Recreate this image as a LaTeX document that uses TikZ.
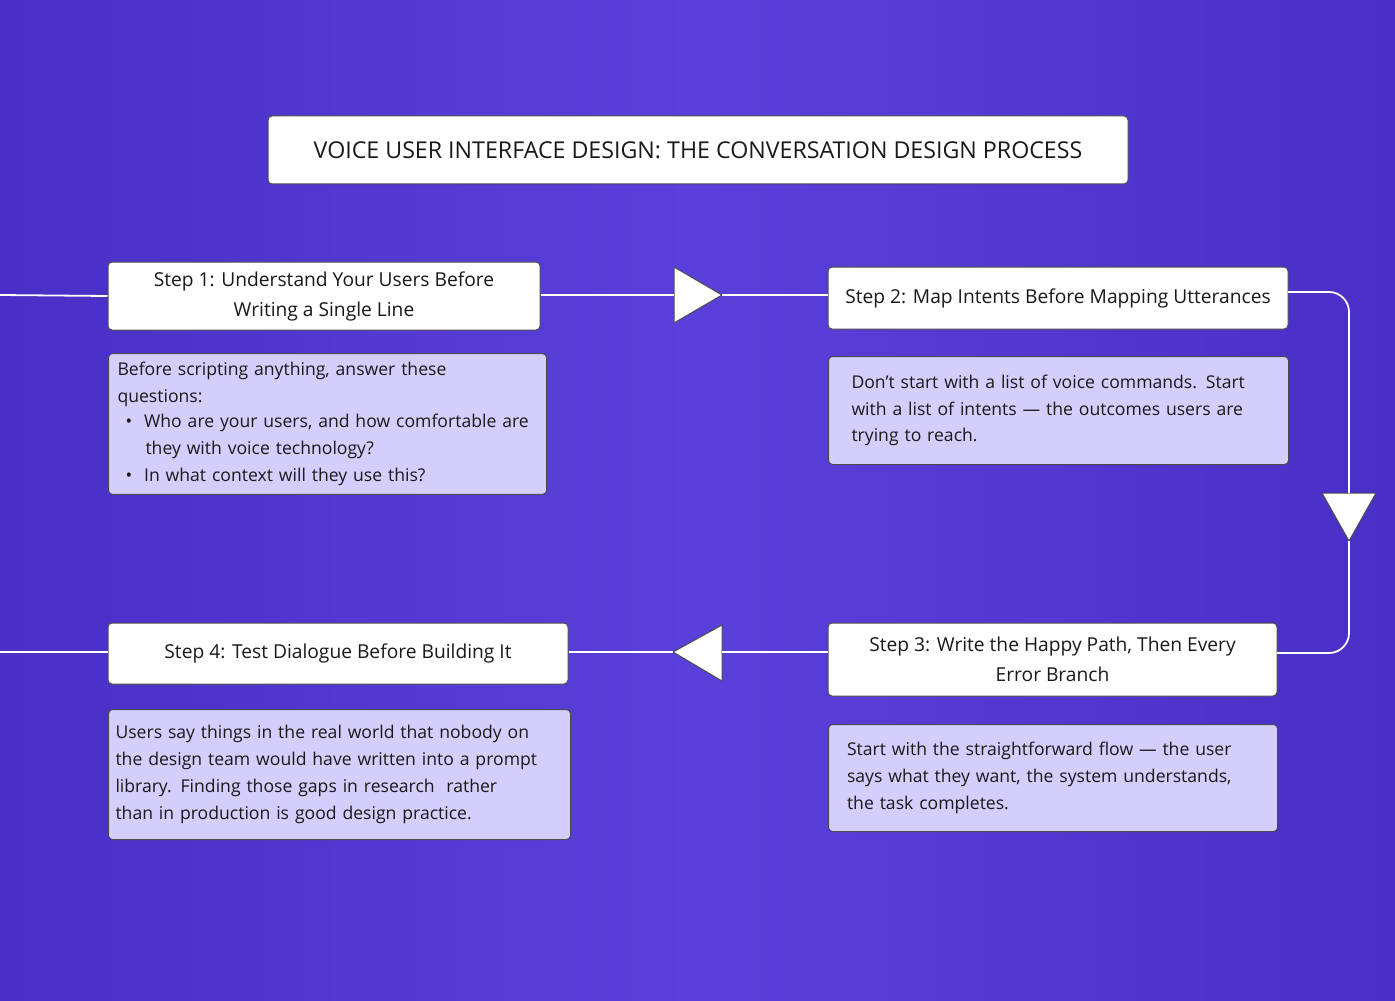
\documentclass[tikz,border=0pt]{standalone}
\usepackage{fontspec}
\setmainfont{Open Sans}
\begin{document}
\begin{tikzpicture}[x=0.5pt,y=-0.5pt,
  hdr/.style={draw=black!70,line width=0.5pt,fill=white,rounded corners=2pt,align=center,text=black!90,font=\fontsize{9.6}{15}\selectfont,inner sep=0pt},
  desc/.style={draw=black!70,line width=0.5pt,fill=descfill,rounded corners=2pt,align=left,text=black!90,font=\fontsize{8.8}{13.4}\selectfont,anchor=north west},
  conn/.style={draw=white,line width=0.9pt},
  tri/.style={fill=white,draw=black!70,line width=0.5pt,line join=round}]
\definecolor{descfill}{HTML}{D3CEFB}
\definecolor{bgA}{HTML}{4A2FC6}
\definecolor{bgB}{HTML}{5A3FDA}
\shade[left color=bgA,right color=bgA,middle color=bgB] (0,0) rectangle (1395,1000);
\useasboundingbox (0,0) rectangle (1395,1000);

\node[hdr,minimum width=430pt,minimum height=34pt,font=\fontsize{11.6}{14}\selectfont] (title) at (698,150) {VOICE USER INTERFACE DESIGN: THE CONVERSATION DESIGN PROCESS};

\node[hdr,minimum width=216pt,minimum height=34pt] (s1) at (324,296) {Step 1: Understand Your Users Before\\Writing a Single Line};
\node[hdr,minimum width=230pt,minimum height=31pt] (s2) at (1058,298) {Step 2: Map Intents Before Mapping Utterances};
\node[hdr,minimum width=224.5pt,minimum height=36.5pt] (s3) at (1052.5,659.5) {Step 3: Write the Happy Path, Then Every\\Error Branch};
\node[hdr,minimum width=230pt,minimum height=30.5pt] (s4) at (338,653.5) {Step 4: Test Dialogue Before Building It};

\node[desc,minimum width=217pt,minimum height=69pt,text width=210pt,inner sep=4.5pt] (d1) at (108,353) {Before scripting anything, answer these\\questions:\\[-1pt]
\hspace*{4pt}\textbullet\hspace{6pt}Who are your users, and how comfortable are\\
\hspace*{14pt}they with voice technology?\\
\hspace*{4pt}\textbullet\hspace{6pt}In what context will they use this?};
\node[desc,minimum width=230pt,minimum height=54pt,text width=207pt,inner xsep=11.5pt,inner ysep=7pt] (d2) at (828,356) {Don't start with a list of voice commands. Start\\with a list of intents — the outcomes users are\\trying to reach.};
\node[desc,minimum width=224.5pt,minimum height=53.5pt,text width=206pt,inner xsep=9pt,inner ysep=7pt] (d3) at (828,724) {Start with the straightforward flow — the user\\says what they want, the system understands,\\the task completes.};
\node[desc,minimum width=230pt,minimum height=65pt,text width=224pt,inner xsep=3.5pt,inner ysep=6pt] (d4) at (108,709) {Users say things in the real world that nobody on\\the design team would have written into a prompt\\library. Finding those gaps in research\ \ rather\\than in production is good design practice.};

% triangles
\draw[tri] (674,267) -- (674,323) -- (722,295) -- cycle;
\coordinate (t1w) at (674,295); \coordinate (t1e) at (722,295);
\draw[tri] (1322,493) -- (1376,493) -- (1349,541) -- cycle;
\coordinate (t2n) at (1349,493); \coordinate (t2s) at (1349,541);
\draw[tri] (722,625) -- (722,681) -- (673,652) -- cycle;
\coordinate (t3e) at (722,652); \coordinate (t3w) at (673,652);
\coordinate (l1) at (0,295); \coordinate (l4) at (0,652);

\draw[conn] (l1) -- (s1.west);
\draw[conn] (s1.east|-t1w) -- (t1w);
\draw[conn] (t1e) -- (s2.west|-t1e);
\draw[conn,rounded corners=10pt] (1288,292) -| (t2n);
\draw[conn,rounded corners=10pt] (t2s) |- (1277,653);
\draw[conn] (s3.west|-t3e) -- (t3e);
\draw[conn] (t3w) -- (s4.east|-t3w);
\draw[conn] (l4) -- (s4.west|-l4);
\end{tikzpicture}
\end{document}
